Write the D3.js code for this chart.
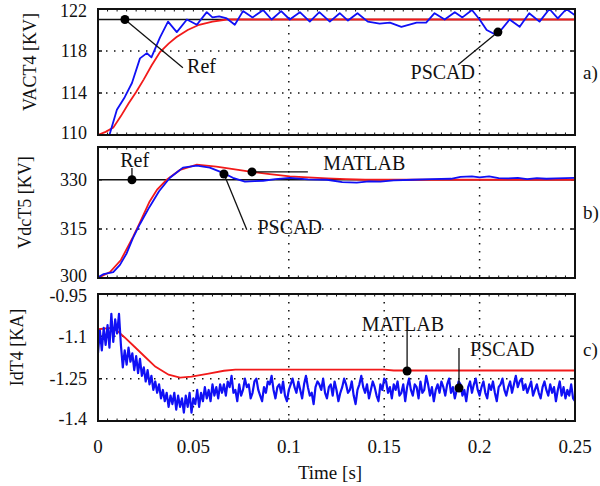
<!DOCTYPE html>
<html>
<head>
<meta charset="utf-8">
<script src="https://cdn.jsdelivr.net/npm/d3@7"></script>
<style>
  body { margin: 0; background: #fff; }
</style>
</head>
<body>
<svg id="chart" width="600" height="486" font-family="'Liberation Serif', 'Times New Roman', serif"></svg>
<script>
// time axis ticks
const timeTicks = [0, 0.05, 0.1, 0.15, 0.2, 0.25];
const timeTickLabels = ["0", "0.05", "0.1", "0.15", "0.2", "0.25"];

// a) AC voltage at terminal 4 [kV], (t, v)
const vacRef = 121;
const vacMatlab = [[0,110],[0.004,110.3],[0.008,110.7],[0.012,111.8],[0.016,113.0],[0.02,114.1],[0.024,115.3],[0.028,116.6],
  [0.0325,117.9],[0.037,118.7],[0.041,119.3],[0.047,120.0],[0.053,120.5],[0.06,120.8],[0.0675,121],[0.25,121]];
const vacPscad = [[0.006,110],[0.0099,112.4],[0.014,113.6],[0.0178,114.95],[0.022,117.3],[0.0256,117.8],[0.028,117.4],
  [0.0325,119.3],[0.0367,120.8],[0.0413,119.8],[0.0466,121],[0.0518,120.5],[0.057,121.7],[0.06,121.2],[0.0635,121.3],
  [0.0675,121.1],[0.0717,120.5],[0.076,121.8],[0.081,121.2],[0.0866,121.9],[0.091,121],[0.096,121.8],[0.1005,121],
  [0.1058,121.7],[0.111,120.8],[0.116,121.7],[0.1215,120.8],[0.1267,121.6],[0.131,120.9],[0.136,121.6],[0.1414,120.8],
  [0.1476,120.6],[0.153,120.7],[0.159,120.3],[0.167,120.7],[0.172,120.7],[0.1764,121.6],[0.1817,121],[0.187,121.7],
  [0.191,121.2],[0.196,121.9],[0.2,121],[0.2037,120],[0.209,119.5],[0.2157,121],[0.221,120.3],[0.226,121.6],
  [0.2314,120.8],[0.2366,122],[0.241,121.1],[0.2455,122],[0.25,121.4]];

// b) DC voltage at terminal 5 [kV]
const vdcRef = 330;
const vdcMatlab = [[0,300],[0.0063,301.8],[0.012,305.5],[0.0183,312.5],[0.022,317],[0.027,323.3],[0.031,327],[0.036,330],
  [0.043,333],[0.0518,334.6],[0.062,334.0],[0.07,333.3],[0.0796,332.5],[0.09,331.7],[0.1005,331],[0.11,330.7],
  [0.12,330.4],[0.13,330.2],[0.14,330],[0.25,330]];
const vdcPscad = [[0,300.2],[0.003,301.2],[0.008,301.8],[0.0115,304],[0.015,307.5],[0.0183,312.2],[0.022,316.5],
  [0.027,321.7],[0.032,326.5],[0.0377,330.6],[0.0445,333.7],[0.0518,334.3],[0.0586,333.7],[0.0655,332.1],[0.0707,330.6],
  [0.077,329.4],[0.082,329.6],[0.0866,329.7],[0.093,330.2],[0.1005,330.6],[0.11,330.1],[0.12,330],[0.128,329.3],
  [0.1356,329.1],[0.142,329.5],[0.148,329.4],[0.155,329.8],[0.165,330],[0.175,330.2],[0.185,330.3],[0.19,330.9],
  [0.196,331],[0.2,330.7],[0.205,331],[0.21,330.5],[0.215,330.4],[0.22,330.6],[0.225,330.2],[0.23,330.5],
  [0.235,330.3],[0.24,330.4],[0.245,330.5],[0.25,330.6]];

// c) DC current at terminal 4 [kA]
const idMatlab = [[0,-1.075],[0.007,-1.07],[0.01,-1.08],[0.014,-1.104],[0.019,-1.136],[0.025,-1.175],[0.03,-1.207],
  [0.037,-1.236],[0.043,-1.246],[0.049,-1.243],[0.058,-1.232],[0.066,-1.222],[0.072,-1.218],[0.15,-1.218],
  [0.155,-1.221],[0.25,-1.221]];
// PSCAD samples, one every 1 ms from t = 0
const idPscadStep = 0.001;
const idPscad = [
  -1.16,-1.08,-1.15,-1.07,-1.13,-1.06,-1.14,-1.02,-1.12,-1.04,-1.09,-1.02,-1.13,
  -1.21,-1.15,-1.20,-1.14,-1.19,-1.16,-1.22,-1.17,-1.23,-1.18,-1.24,-1.21,-1.26,-1.22,-1.27,-1.24,-1.29,-1.26,
  -1.30,-1.27,-1.32,-1.29,-1.33,-1.30,-1.35,-1.31,-1.34,-1.30,-1.36,-1.31,-1.35,-1.32,-1.37,-1.31,-1.35,-1.30,
  -1.37,-1.32,-1.34,-1.29,-1.35,-1.30,-1.33,-1.28,-1.32,-1.29,-1.33,-1.27,-1.31,-1.28,-1.32,-1.27,-1.30,
  -1.27,-1.31,-1.26,-1.28,-1.24,-1.30,-1.29,-1.33,-1.27,-1.31,
  -1.29,-1.25,-1.28,-1.27,-1.32,-1.30,-1.26,-1.25,-1.29,-1.31,
  -1.33,-1.28,-1.30,-1.26,-1.27,-1.24,-1.29,-1.32,-1.28,-1.27,
  -1.30,-1.26,-1.31,-1.33,-1.29,-1.27,-1.25,-1.28,-1.30,-1.26,
  -1.29,-1.32,-1.27,-1.24,-1.28,-1.31,-1.30,-1.34,-1.28,-1.26,
  -1.27,-1.29,-1.25,-1.30,-1.32,-1.28,-1.27,-1.31,-1.26,-1.29,
  -1.33,-1.30,-1.28,-1.25,-1.27,-1.30,-1.29,-1.26,-1.31,-1.34,
  -1.29,-1.27,-1.24,-1.28,-1.30,-1.27,-1.32,-1.29,-1.26,-1.28,
  -1.31,-1.33,-1.27,-1.29,-1.25,-1.26,-1.30,-1.28,-1.32,-1.27,
  -1.29,-1.26,-1.31,-1.30,-1.27,-1.33,-1.28,-1.25,-1.29,-1.31,
  -1.27,-1.28,-1.32,-1.26,-1.30,-1.29,-1.24,-1.27,-1.31,-1.28,
  -1.33,-1.29,-1.27,-1.30,-1.26,-1.28,-1.31,-1.27,-1.25,-1.30,
  -1.28,-1.32,-1.29,-1.26,-1.27,-1.31,-1.29,-1.33,-1.28,-1.26,
  -1.30,-1.27,-1.25,-1.29,-1.31,-1.28,-1.26,-1.30,-1.32,-1.27,
  -1.29,-1.26,-1.30,-1.33,-1.28,-1.27,-1.25,-1.29,-1.31,-1.28,
  -1.26,-1.30,-1.27,-1.24,-1.28,-1.26,-1.25,-1.29,-1.27,-1.30,
  -1.28,-1.26,-1.31,-1.29,-1.27,-1.30,-1.32,-1.28,-1.26,-1.29,
  -1.31,-1.27,-1.30,-1.28,-1.33,-1.29,-1.26,-1.31,-1.28,-1.32,
  -1.29,-1.31,-1.27,-1.32,-1.33];

// annotations: dot (t,v), line end (t,v), text anchor (t,v)
const annotA = [
  {text: "Ref", dot: [0.0141, 121], end: [0.0445, 116.4], at: [0.0467, 116.55], anchor: "start"},
  {text: "PSCAD", dot: [0.2096, 119.8], end: [0.1887, 116.7], at: [0.1976, 116.0], anchor: "end"}
];
const annotB = [
  {text: "Ref", dot: [0.0178, 330], end: [0.0178, 333.6], at: [0.0192, 336.1], anchor: "middle"},
  {text: "PSCAD", dot: [0.066, 331.75], end: [0.078, 314.7], at: [0.0836, 315.6], anchor: "start"},
  {text: "MATLAB", dot: [0.0807, 332.4], end: [0.110, 332.4], at: [0.118, 335.1], anchor: "start"}
];
const annotC = [
  {text: "MATLAB", dot: [0.162, -1.2228], end: [0.162, -1.0775], at: [0.1598, -1.056], anchor: "middle"},
  {text: "PSCAD", dot: [0.1892, -1.283], end: [0.1892, -1.141], at: [0.195, -1.145], anchor: "start"}
];

const panels = [
  {tag: "a)", label: "VACT4 [KV]", labelX: 30, top: 9, bottom: 135, domain: [110, 122], ticks: [110, 114, 118, 122],
   vgrid: [0.1, 0.2], ref: vacRef, red: vacMatlab, blue: vacPscad, notes: annotA},
  {tag: "b)", label: "VdcT5 [KV]", labelX: 25, top: 147, bottom: 278, domain: [300, 340], ticks: [300, 315, 330],
   vgrid: [0.1, 0.2], ref: vdcRef, red: vdcMatlab, blue: vdcPscad, notes: annotB},
  {tag: "c)", label: "IdT4 [KA]", labelX: 17, top: 294, bottom: 421, domain: [-1.4, -0.95], ticks: [-1.4, -1.25, -1.1, -0.95],
   vgrid: [0.05, 0.1, 0.15, 0.2], ref: null, red: idMatlab, blue: idPscad.map((v, i) => [i * idPscadStep, v]), notes: annotC}
];

const svg = d3.select("#chart");
const x = d3.scaleLinear().domain([0, 0.25]).range([98, 575]);
const RED = "#f21a1a", BLUE = "#1010f5", INK = "#111";

function drawPanel(p){
  const y = d3.scaleLinear().domain(p.domain).range([p.bottom, p.top]);
  const g = svg.append("g");
  const line = d3.line().x(d => x(d[0])).y(d => y(d[1]));

  // dotted grid
  const hg = p.ticks.filter(t => t !== p.domain[0] && t !== p.domain[1] && t !== p.ref);
  g.selectAll(".hg").data(hg).join("line")
    .attr("x1", x.range()[0]).attr("x2", x.range()[1]).attr("y1", d => y(d)).attr("y2", d => y(d))
    .attr("stroke", INK).attr("stroke-width", 1.5).attr("stroke-dasharray", "1.5,6.5");
  g.selectAll(".vg").data(p.vgrid).join("line")
    .attr("x1", d => x(d)).attr("x2", d => x(d)).attr("y1", p.top).attr("y2", p.bottom)
    .attr("stroke", INK).attr("stroke-width", 1.5).attr("stroke-dasharray", "1.5,6.5");

  // tick marks on the frame
  const minor = d3.range(0, 51).map(i => i * 0.005);
  g.selectAll(".mt").data(minor).join("path")
    .attr("d", d => `M${x(d)},${p.bottom}v-2.5M${x(d)},${p.top}v2.5`)
    .attr("stroke", INK).attr("stroke-width", 1);
  g.selectAll(".yt").data(p.ticks).join("path")
    .attr("d", d => `M${x.range()[0]},${y(d)}h4M${x.range()[1]},${y(d)}h-4`)
    .attr("stroke", INK).attr("stroke-width", 1.5);

  if(p.ref !== null){
    g.append("line").attr("x1", x.range()[0]).attr("x2", x.range()[1])
      .attr("y1", y(p.ref)).attr("y2", y(p.ref)).attr("stroke", INK).attr("stroke-width", 1.5);
  }

  const clip = "clip" + p.tag[0];
  svg.append("clipPath").attr("id", clip).append("rect")
    .attr("x", x.range()[0]).attr("y", p.top - 1).attr("width", x.range()[1] - x.range()[0]).attr("height", p.bottom - p.top + 2);
  g.append("path").attr("d", line(p.red)).attr("fill", "none").attr("stroke", RED).attr("stroke-width", 1.8)
    .attr("clip-path", `url(#${clip})`);
  g.append("path").attr("d", line(p.blue)).attr("fill", "none").attr("stroke", BLUE)
    .attr("stroke-width", p.tag === "c)" ? 2.2 : 1.8)
    .attr("stroke-linejoin", "round").attr("clip-path", `url(#${clip})`);

  // frame
  g.append("rect").attr("x", x.range()[0]).attr("y", p.top)
    .attr("width", x.range()[1] - x.range()[0]).attr("height", p.bottom - p.top)
    .attr("fill", "none").attr("stroke", INK).attr("stroke-width", 2);

  // y tick labels, end labels nudged inwards like the original
  const top = p.domain[1], bot = p.domain[0];
  g.selectAll(".yl").data(p.ticks).join("text")
    .attr("x", 87).attr("y", d => y(d) + (d === top ? 2 : d === bot ? -2 : 0))
    .attr("dy", "0.36em").attr("text-anchor", "end")
    .attr("font-size", 18).attr("fill", INK).text(d => String(d));

  // axis label
  const mid = (p.top + p.bottom) / 2 - 10;
  g.append("text").attr("transform", `translate(${p.labelX},${mid}) rotate(-90)`)
    .attr("dy", "0.35em").attr("text-anchor", "middle").attr("font-size", 18).attr("fill", INK).text(p.label);

  // panel tag
  g.append("text").attr("x", 583).attr("y", (p.top + p.bottom) / 2 + (p.tag === "c)" ? -8 : 0))
    .attr("dy", "0.35em").attr("font-size", 19).attr("fill", INK).text(p.tag);

  // annotations
  p.notes.forEach(n => {
    g.append("line").attr("x1", x(n.dot[0])).attr("y1", y(n.dot[1]))
      .attr("x2", x(n.end[0])).attr("y2", y(n.end[1])).attr("stroke", INK).attr("stroke-width", 1.3);
    g.append("circle").attr("cx", x(n.dot[0])).attr("cy", y(n.dot[1])).attr("r", 4.5).attr("fill", "#000");
    g.append("text").attr("x", x(n.at[0])).attr("y", y(n.at[1])).attr("dy", "0.35em")
      .attr("text-anchor", n.anchor).attr("font-size", 20).attr("fill", INK).text(n.text);
  });
}

panels.forEach(drawPanel);

// time axis labels
svg.selectAll(".xl").data(timeTicks).join("text")
  .attr("x", d => x(d)).attr("y", 453).attr("text-anchor", "middle").attr("font-size", 19).attr("fill", INK)
  .text((d, i) => timeTickLabels[i]);
svg.append("text").attr("x", 330).attr("y", 479).attr("text-anchor", "middle").attr("font-size", 19)
  .attr("fill", INK).text("Time [s]");
</script>
</body>
</html>
